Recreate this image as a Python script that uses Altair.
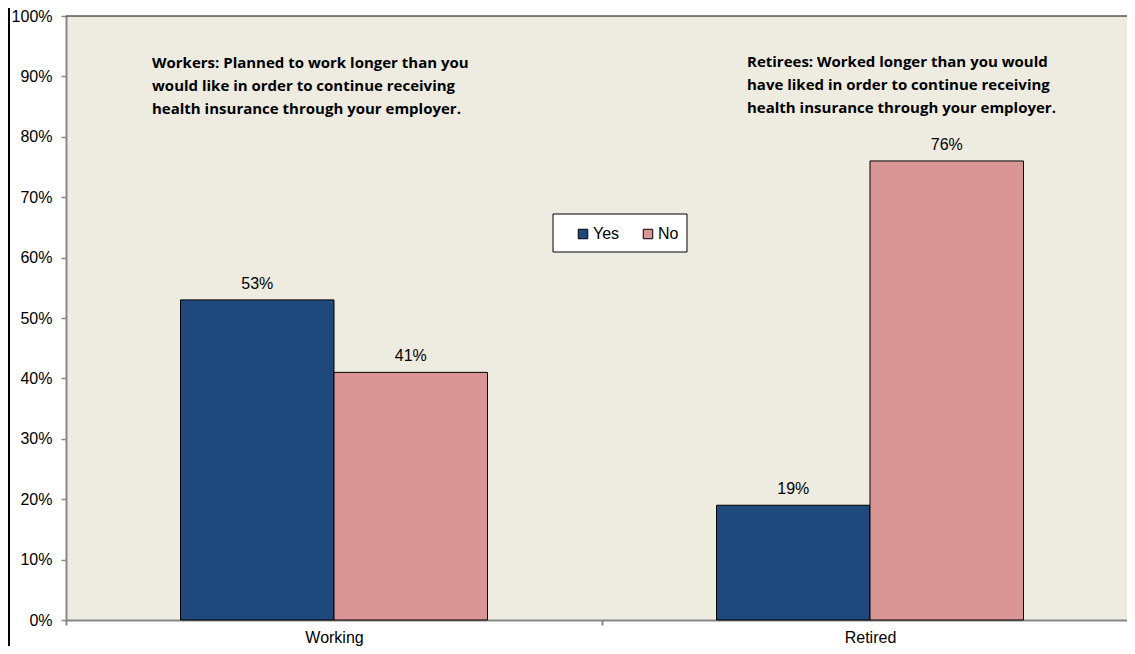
import altair as alt
import pandas as pd

categories = ["Working", "Retired"]
series = ["Yes", "No"]
yes_values = [0.53, 0.19]
no_values = [0.41, 0.76]
colors = ["#1F497D", "#D99694"]
y_ticks = [0.0, 0.1, 0.2, 0.3, 0.4, 0.5, 0.6, 0.7, 0.8, 0.9, 1.0]
note_workers = ("Workers: Planned to work longer than you\n"
                "would like in order to continue receiving\n"
                "health insurance through your employer.")
note_retirees = ("Retirees: Worked longer than you would\n"
                 "have liked in order to continue receiving\n"
                 "health insurance through your employer.")

rows = []
for i, c in enumerate(categories):
    rows.append({"cat": c, "series": "Yes", "value": yes_values[i]})
    rows.append({"cat": c, "series": "No", "value": no_values[i]})
df = pd.DataFrame(rows)

W, H = 1061, 604
X_EXTENT = 1072
FONT = "Liberation Sans"
AXIS_GRAY = "#878787"

x_enc = alt.X(
    "cat:N", sort=categories,
    scale=alt.Scale(paddingInner=0, paddingOuter=0, range=[0, X_EXTENT]),
    axis=alt.Axis(title=None, labelAngle=0, tickBand="extent", tickSize=5,
                  labelPadding=4, labelFontSize=16, labelFont=FONT,
                  labelColor="black", domainColor=AXIS_GRAY, domainWidth=2,
                  tickColor=AXIS_GRAY, tickWidth=2, grid=False),
)
xoff_enc = alt.XOffset("series:N", sort=series,
                       scale=alt.Scale(domain=series, paddingInner=0, paddingOuter=0.746))
y_enc = alt.Y(
    "value:Q",
    scale=alt.Scale(domain=[0, 1], nice=False),
    axis=alt.Axis(title=None, values=y_ticks, format=".0%", grid=False,
                  tickSize=5, labelPadding=9, labelFontSize=16, labelFont=FONT,
                  labelColor="black", domainColor=AXIS_GRAY, domainWidth=2,
                  tickColor=AXIS_GRAY, tickWidth=1.5),
)

base = alt.Chart(df)

legend_box = alt.Chart(pd.DataFrame({"k": [0]})).mark_rect(
    fill="white", stroke="black", strokeWidth=1
).encode(x=alt.value(487), x2=alt.value(621), y=alt.value(198), y2=alt.value(236))

bars = base.mark_bar(stroke="black", strokeWidth=1).encode(
    x=x_enc, xOffset=xoff_enc, y=y_enc,
    color=alt.Color(
        "series:N", sort=series,
        scale=alt.Scale(domain=series, range=colors),
        legend=alt.Legend(orient="none", legendX=509, legendY=210,
                          direction="horizontal", title=None,
                          symbolType="square", symbolSize=90,
                          symbolStrokeColor="black", symbolStrokeWidth=1,
                          labelFontSize=16, labelFont=FONT, labelColor="black",
                          labelOffset=2, columnPadding=20, padding=0),
    ),
)

labels = base.mark_text(dy=-16, fontSize=16, font=FONT, color="black").encode(
    x=x_enc, xOffset=xoff_enc, y=y_enc,
    text=alt.Text("value:Q", format=".0%"),
)

note1 = alt.Chart(pd.DataFrame({"t": [note_workers]})).mark_text(
    align="left", baseline="alphabetic", lineBreak="\n", lineHeight=23,
    font="Open Sans", fontWeight="bold", fontSize=15, color="black"
).encode(x=alt.value(86), y=alt.value(52), text="t:N")

note2 = alt.Chart(pd.DataFrame({"t": [note_retirees]})).mark_text(
    align="left", baseline="alphabetic", lineBreak="\n", lineHeight=23,
    font="Open Sans", fontWeight="bold", fontSize=15, color="black"
).encode(x=alt.value(681), y=alt.value(51), text="t:N")

top_rule = alt.Chart(pd.DataFrame({"k": [0]})).mark_rule(color="black", strokeWidth=1).encode(
    x=alt.value(0), x2=alt.value(W), y=alt.value(0))

left_border = alt.Chart(pd.DataFrame({"k": [0]})).mark_rule(color="black", strokeWidth=2).encode(
    x=alt.value(-57), y=alt.value(-8), y2=alt.value(H + 26))

chart = alt.layer(legend_box, bars, labels, note1, note2, top_rule, left_border).properties(
    width=W, height=H,
    padding={"left": 58, "top": 8, "right": 0, "bottom": 26},
    autosize=alt.AutoSizeParams(type="none"),
    background="white",
).configure_view(stroke=None, fill="#EEECE1")

chart.save("out.html", embed_options={"renderer": "svg", "actions": False})
